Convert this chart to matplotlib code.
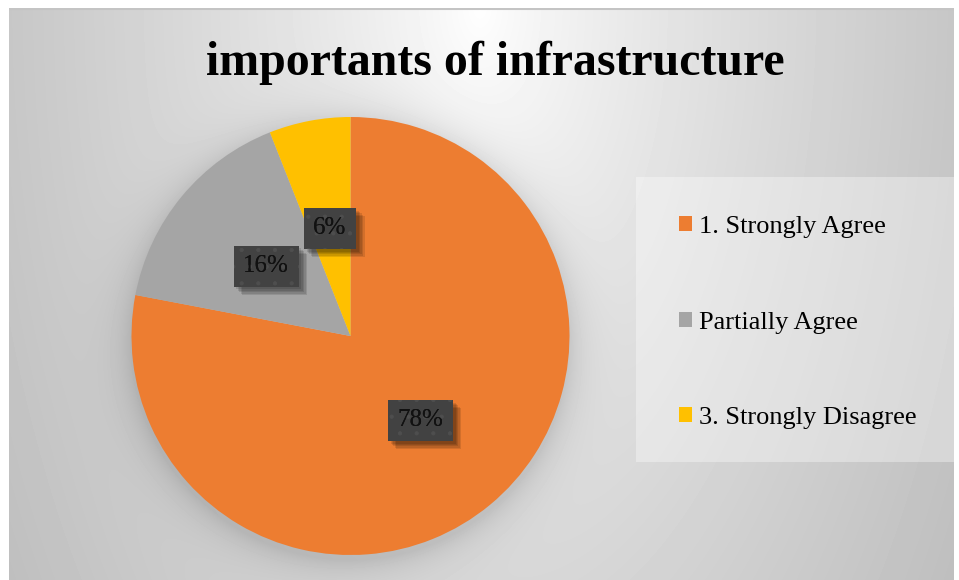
import matplotlib.pyplot as plt
import matplotlib.patheffects as pe
from matplotlib.patches import Rectangle
import numpy as np

title = 'importants of infrastructure'
categories = ['1. Strongly Agree', 'Partially Agree', '3. Strongly Disagree']
shares = [78, 16, 6]
colors = ['#ED7D31', '#A5A5A5', '#FFC000']

W, H = 959, 580
plt.rcParams['hatch.linewidth'] = 0.6
fig = plt.figure(figsize=(W / 100, H / 100), dpi=100)
fig.patch.set_facecolor('white')

# chart area, drawn in pixel units (top-left origin)
x0, x1, y0, y1 = 9, 954, 8, 580
bg = fig.add_axes([x0 / W, 0, (x1 - x0) / W, (y1 - y0) / H])
bg.set_axis_off()
bg.set_xlim(x0, x1)
bg.set_ylim(y1, y0)

ax = fig.add_axes([131.5 / W, 25 / H, 438 / W, 438 / H])
label_font = dict(family='Liberation Serif', size=18, color='#111111')
wedges, _, autotexts = ax.pie(
    shares, colors=colors, startangle=90, counterclock=False, radius=1,
    autopct='%d%%', pctdistance=0.5, wedgeprops=dict(linewidth=0),
    textprops=label_font)
ax.set_xlim(-1, 1)
ax.set_ylim(-1, 1)

# dark data-label boxes with a soft drop shadow, dotted texture on top
soft_shadow = [pe.SimplePatchShadow(offset=(k, -k), shadow_rgbFace='black', alpha=0.11)
               for k in (6, 5, 4, 3, 2)]
box = dict(boxstyle='square,pad=0.38', lw=0)
for t in autotexts:
    t.set_bbox(dict(box, fc='#424242', ec='none'))
    t.get_bbox_patch().set_path_effects(soft_shadow + [pe.Normal()])
    x, y = t.get_position()
    ax.text(x, y, t.get_text(), ha='center', va='center', **label_font,
            bbox=dict(box, fc='none', ec='#4e4e4e', hatch='.'))

# radial grey gradient with a soft shadow round the pie
xs = np.arange(x0, x1) + 0.5
ys = np.arange(y0, y1) + 0.5
xx, yy = np.meshgrid(xs, ys)
d = np.sqrt(((xx - 480) / 471.0) ** 2 + ((yy - 5) / 900.0) ** 2)
img = 1.0 - 0.22 * np.clip(d, 0, None) ** 0.8

cx, cy = ax.transData.transform((0, 0))
rpx = ax.transData.transform((1, 0))[0] - cx
cy = H - cy
r = np.sqrt((xx - cx) ** 2 + (yy - cy - 5) ** 2)
img -= 0.11 * np.exp(-np.clip(r - rpx, 0, None) / 18.0)

bg.imshow(img, cmap='gray', vmin=0, vmax=1, extent=(x0, x1, y1, y0),
          aspect='auto', interpolation='bilinear')
bg.axhline(y0 + 0.5, color='#c4c4c4', lw=1.5)

# legend panel
bg.add_patch(Rectangle((636, 177), 319, 285, facecolor='white', alpha=0.35,
                       edgecolor='none'))

fig.legend(wedges, categories, loc='center left',
           bbox_to_anchor=(679 / W, 1 - 322.5 / H), frameon=False,
           prop=dict(family='Liberation Serif', size=19),
           handlelength=0.5, handleheight=0.5, handletextpad=0.25,
           labelspacing=2.78, borderpad=0, borderaxespad=0)

fig.text(495 / W, 1 - 75 / H, title, ha='center', va='baseline',
         family='Liberation Serif', weight='bold', size=34.5)

fig.savefig('out.png', dpi=100)
